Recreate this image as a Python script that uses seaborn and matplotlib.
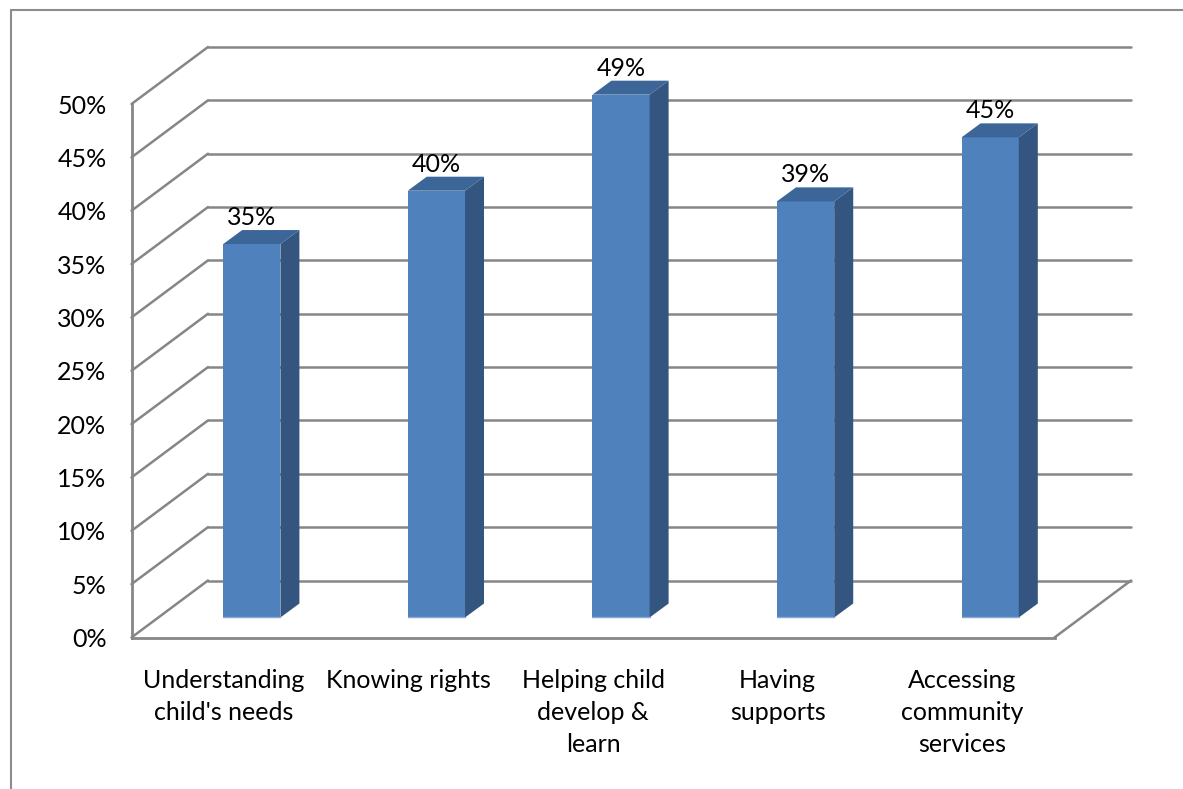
import matplotlib
matplotlib.use("Agg")
import matplotlib.pyplot as plt
import numpy as np
import pandas as pd
import seaborn as sns
from matplotlib.lines import Line2D
from matplotlib.patches import Polygon
from matplotlib.transforms import ScaledTranslation, IdentityTransform

# ---- data ----
categories = [
    "Understanding\nchild's needs",
    "Knowing rights",
    "Helping child\ndevelop &\nlearn",
    "Having\nsupports",
    "Accessing\ncommunity\nservices",
]
values = [35, 40, 49, 39, 45]
y_ticks = [0, 5, 10, 15, 20, 25, 30, 35, 40, 45, 50]
y_tick_labels = [f"{t}%" for t in y_ticks]

# ---- styling ----
W, H, DPI = 1183, 789, 100
GRID = "#868686"
FRONT = "#4F81BD"
SIDE = "#34557F"
TOP = "#3C6598"
EDGE = "#86A8D4"
FONT_SIZE = 18

sns.set_style("white")
plt.rcParams["font.family"] = ["Lato", "DejaVu Sans"]

fig = plt.figure(figsize=(W / DPI, H / DPI), dpi=DPI)

# front plane of the 3-D box, pixel positions from the top-left corner
fx0, fx1 = 131.5, 1054.5
fy0, fy50 = 637.5, 104.0
ax = fig.add_axes([fx0 / W, 1 - fy0 / H, (fx1 - fx0) / W, (fy0 - fy50) / H])

df = pd.DataFrame({"category": categories, "value": values})
sns.barplot(data=df, x="category", y="value", width=0.31, color=FRONT,
            saturation=1, linewidth=0, ax=ax, zorder=4)

ax.set_xlim(-0.5, 4.5)
ax.set_ylim(0, 50)
ax.set_xlabel("")
ax.set_ylabel("")

# depth offsets (display pixels, y up)
WALL_DX, WALL_DY = 76.5, 57.0
BAR_DX, BAR_DY = 28.0, 20.0
DEPTH_DX, DEPTH_DY = 19.0, 14.0


def shift(dx, dy):
    return ax.transData + ScaledTranslation(dx / DPI, dy / DPI, fig.dpi_scale_trans)


# axes / ticks
for s in ["top", "right"]:
    ax.spines[s].set_visible(False)
for s in ["left", "bottom"]:
    ax.spines[s].set_color(GRID)
    ax.spines[s].set_linewidth(2.0)

ax.set_yticks(y_ticks)
ax.set_yticklabels(y_tick_labels, fontsize=FONT_SIZE, color="black")
ax.tick_params(axis="y", direction="out", length=6, width=1.6, color=GRID, pad=12)

ax.set_xticks(np.arange(-0.5, 5.0, 1.0))
ax.set_xticklabels([])
ax.set_xticks(np.arange(5), minor=True)
ax.set_xticklabels(categories, minor=True, fontsize=FONT_SIZE, color="black",
                   linespacing=1.47)
ax.tick_params(axis="x", which="major", direction="out", length=7.5, width=1.6, color=GRID)
ax.tick_params(axis="x", which="minor", length=0, pad=23)

ax.set_facecolor("none")

# back wall and floor grid lines
back = shift(WALL_DX, WALL_DY)
for t in y_ticks:
    ax.add_line(Line2D([-0.5, 4.5], [t, t], transform=back, color=GRID,
                       lw=1.8, clip_on=False, zorder=1))

fig.canvas.draw()
# left wall diagonals
for t in y_ticks:
    px, py = ax.transData.transform((-0.5, t))
    fig.add_artist(Line2D([px, px + WALL_DX], [py, py + WALL_DY],
                          transform=IdentityTransform(), color=GRID, lw=1.8, zorder=1))
# right floor edge
px, py = ax.transData.transform((4.5, 0))
fig.add_artist(Line2D([px, px + WALL_DX], [py, py + WALL_DY],
                      transform=IdentityTransform(), color=GRID, lw=1.8, zorder=1))

# bars: push front faces into the box and add side / top faces
bar_trans = shift(BAR_DX, BAR_DY)
for patch, v in zip(ax.patches, values):
    patch.set_transform(bar_trans)
    patch.set_clip_on(False)
    x = patch.get_x()
    w = patch.get_width()
    h = patch.get_height()
    (xl, yb), (xr, yt) = bar_trans.transform([(x, 0), (x + w, h)])
    side = Polygon([(xr, yb), (xr, yt), (xr + DEPTH_DX, yt + DEPTH_DY),
                    (xr + DEPTH_DX, yb + DEPTH_DY)], closed=True,
                   transform=IdentityTransform(), facecolor=SIDE, edgecolor="none",
                   zorder=3)
    top = Polygon([(xl, yt), (xr, yt), (xr + DEPTH_DX, yt + DEPTH_DY),
                   (xl + DEPTH_DX, yt + DEPTH_DY)], closed=True,
                  transform=IdentityTransform(), facecolor=TOP, edgecolor="none",
                  zorder=3)
    fig.add_artist(side)
    fig.add_artist(top)
    fig.add_artist(Line2D([xl, xr], [yb + 0.5, yb + 0.5], transform=IdentityTransform(),
                          color=EDGE, lw=1.0, zorder=5))
    ax.text(x + w / 2, h, f"{v}%", transform=shift(BAR_DX, BAR_DY + 19),
            ha="center", va="baseline", fontsize=FONT_SIZE, color="black",
            clip_on=False, zorder=6)

# chart area border (left and top edges)
fig.add_artist(Line2D([10.5 / W, 10.5 / W], [0, 1 - 9.5 / H], transform=fig.transFigure,
                      color="#8C8C8C", lw=1.5))
fig.add_artist(Line2D([10.5 / W, 1], [1 - 9.5 / H, 1 - 9.5 / H], transform=fig.transFigure,
                      color="#8C8C8C", lw=1.5))

fig.savefig("out.png", dpi=DPI, facecolor="white")
